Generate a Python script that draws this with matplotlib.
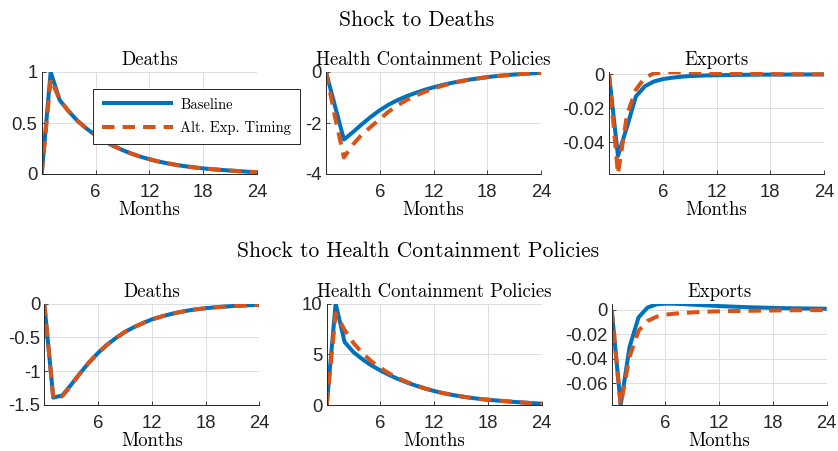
import matplotlib
matplotlib.use('Agg')
import matplotlib.pyplot as plt
import numpy as np

plt.rcParams['axes.unicode_minus'] = False

months = np.arange(0, 25)

# shock to deaths
deaths_base_1 = [0, 1.0, 0.725, 0.615, 0.52, 0.445, 0.38, 0.32, 0.275, 0.235, 0.2, 0.17, 0.145,
                 0.123, 0.105, 0.089, 0.076, 0.065, 0.055, 0.047, 0.04, 0.034, 0.028, 0.022, 0.017]
deaths_alt_1 = [0, 0.93, 0.73, 0.615, 0.52, 0.445, 0.38, 0.32, 0.275, 0.235, 0.2, 0.17, 0.145,
                0.123, 0.105, 0.089, 0.076, 0.065, 0.055, 0.047, 0.04, 0.034, 0.028, 0.022, 0.017]
health_base_1 = [0, -1.33, -2.65, -2.36, -2.05, -1.76, -1.5, -1.28, -1.1, -0.95, -0.82, -0.7, -0.6,
                 -0.51, -0.43, -0.36, -0.3, -0.25, -0.2, -0.16, -0.13, -0.1, -0.075, -0.055, -0.035]
health_alt_1 = [0, -1.75, -3.35, -2.85, -2.45, -2.15, -1.85, -1.55, -1.3, -1.1, -0.93, -0.78, -0.65,
                -0.54, -0.45, -0.37, -0.3, -0.25, -0.2, -0.16, -0.13, -0.1, -0.075, -0.055, -0.035]
exports_base_1 = [0, -0.048, -0.031, -0.013, -0.007, -0.0042, -0.0028, -0.002, -0.0014, -0.001,
                  -0.0008, -0.0006, -0.0005, -0.0004, -0.0003, -0.00025, -0.0002, -0.00016,
                  -0.00013, -0.0001, -0.00008, -0.00006, -0.00005, -0.00004, -0.00003]
exports_alt_1 = [0, -0.0586, -0.024, -0.009, -0.002, 0.0006, 0.0011, 0.0013, 0.0013, 0.0012,
                 0.001, 0.0008, 0.0006, 0.0005, 0.0004, 0.0003, 0.00025, 0.0002, 0.00015,
                 0.0001, 0.00008, 0.00006, 0.00005, 0.00004, 0.00003]

# shock to health containment policies
deaths_base_2 = [0, -1.39, -1.36, -1.2, -1.03, -0.87, -0.73, -0.61, -0.51, -0.42, -0.35, -0.29, -0.235,
                 -0.195, -0.16, -0.13, -0.105, -0.085, -0.07, -0.057, -0.047, -0.038, -0.031, -0.025, -0.02]
deaths_alt_2 = [0, -1.40, -1.37, -1.21, -1.03, -0.87, -0.73, -0.61, -0.51, -0.42, -0.35, -0.29, -0.235,
                -0.195, -0.16, -0.13, -0.105, -0.085, -0.07, -0.057, -0.047, -0.038, -0.031, -0.025, -0.02]
health_base_2 = [0, 10.0, 6.2, 5.2, 4.5, 3.9, 3.4, 2.95, 2.55, 2.2, 1.9, 1.62, 1.38, 1.17, 1.0,
                 0.85, 0.72, 0.61, 0.52, 0.44, 0.37, 0.3, 0.24, 0.18, 0.13]
health_alt_2 = [0, 9.0, 7.4, 6.1, 5.1, 4.3, 3.65, 3.1, 2.65, 2.25, 1.92, 1.63, 1.38, 1.17, 1.0,
                0.85, 0.72, 0.61, 0.52, 0.44, 0.37, 0.3, 0.24, 0.18, 0.13]
exports_base_2 = [0, -0.0776, -0.030, -0.006, 0.002, 0.0046, 0.0052, 0.0051, 0.0048, 0.0044, 0.004,
                  0.0036, 0.0032, 0.0029, 0.0026, 0.0023, 0.0021, 0.0019, 0.0017, 0.0015, 0.0014,
                  0.0013, 0.0012, 0.0011, 0.001]
exports_alt_2 = [0, -0.0776, -0.038, -0.017, -0.009, -0.0055, -0.0038, -0.003, -0.0024, -0.002,
                 -0.0016, -0.0013, -0.0011, -0.0009, -0.0008, -0.0007, -0.0006, -0.0005, -0.0004,
                 -0.0003, -0.00025, -0.0002, -0.00015, -0.0001, -0.0001]

panel_titles = ['Deaths', 'Health Containment Policies', 'Exports']
row_titles = ['Shock to Deaths', 'Shock to Health Containment Policies']
series = [
    [(deaths_base_1, deaths_alt_1), (health_base_1, health_alt_1), (exports_base_1, exports_alt_1)],
    [(deaths_base_2, deaths_alt_2), (health_base_2, health_alt_2), (exports_base_2, exports_alt_2)],
]
ylims = [[(0, 1), (-4, 0), (-0.0586, 0.0014)],
         [(-1.5, 0), (0, 10), (-0.0776, 0.0053)]]
yticks = [[[0, 0.5, 1], [-4, -2, 0], [-0.04, -0.02, 0]],
          [[-1.5, -1, -0.5, 0], [0, 5, 10], [-0.06, -0.04, -0.02, 0]]]
ytick_labels = [[['0', '0.5', '1'], ['-4', '-2', '0'], ['-0.04', '-0.02', '0']],
                [['-1.5', '-1', '-0.5', '0'], ['0', '5', '10'], ['-0.06', '-0.04', '-0.02', '0']]]

blue = '#0072BD'
orange = '#D95319'
serif = 'cmr10'
sans = 'Liberation Sans'

W, H = 838, 451
fig = plt.figure(figsize=(W / 100, H / 100), dpi=100)

# axes boxes in pixels: (left, right) per column, (top, bottom) per row
cols = [[(41.7, 257), (326, 541), (609, 824)],
        [(44.3, 259.3), (326.7, 541.5), (611.7, 826.7)]]
rows = [(72, 174), (303.5, 405)]

for r in range(2):
    top, bottom = rows[r]
    for c in range(3):
        left, right = cols[r][c]
        ax = fig.add_axes([left / W, 1 - bottom / H, (right - left) / W, (bottom - top) / H])
        base, alt = series[r][c]
        lb, = ax.plot(months, base, color=blue, lw=2.9, solid_capstyle='butt', label='Baseline')
        la, = ax.plot(months, alt, color=orange, lw=2.9, dashes=(3.1, 2.0),
                      dash_capstyle='butt', label='Alt. Exp. Timing')
        ax.set_xlim(0, 24)
        ax.set_ylim(*ylims[r][c])
        ax.set_xticks([6, 12, 18, 24])
        ax.set_xticklabels(['6', '12', '18', '24'], fontfamily=sans, fontsize=13.3)
        ax.set_yticks(yticks[r][c])
        ax.set_yticklabels(ytick_labels[r][c], fontfamily=sans, fontsize=13.3)
        ax.tick_params(direction='in', length=3, width=0.6, pad=3, colors='#262626')
        ax.tick_params(axis='x', pad=7.5)
        ax.grid(True, color='#dfdfdf', lw=0.7)
        ax.set_axisbelow(True)
        for s in ['top', 'right']:
            ax.spines[s].set_visible(False)
        for s in ['left', 'bottom']:
            ax.spines[s].set_color('#262626')
            ax.spines[s].set_linewidth(0.7)
        ax.set_title(panel_titles[c], fontfamily=serif, fontsize=13.5, pad=5)
        ax.set_xlabel('Months', fontfamily=serif, fontsize=13.5, labelpad=0)
        if r == 0 and c == 0:
            leg = ax.legend(handles=[lb, la], loc='upper left', bbox_to_anchor=(0.238, 0.833),
                            prop={'family': serif, 'size': 10.5}, frameon=True, fancybox=False,
                            edgecolor='#262626', handlelength=4.9, borderpad=0.6,
                            labelspacing=0.65, handletextpad=0.5, borderaxespad=0)
            leg.get_frame().set_linewidth(0.7)
            leg.get_frame().set_alpha(1)

fig.text(0.497, 1 - 20 / H, row_titles[0], ha='center', va='center', fontfamily=serif, fontsize=15.5)
fig.text(0.499, 1 - 251 / H, row_titles[1], ha='center', va='center', fontfamily=serif, fontsize=15.5)

plt.savefig('out.png', dpi=100)
plt.close()
